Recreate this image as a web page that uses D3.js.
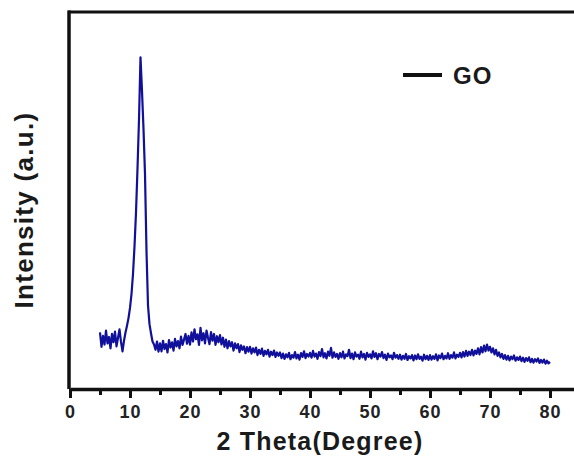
<!DOCTYPE html>
<html>
<head>
<meta charset="utf-8">
<script src="https://cdn.jsdelivr.net/npm/d3@7"></script>
<style>
  body { margin: 0; background: #fff; }
  svg { display: block; font-family: "Liberation Sans", Arial, sans-serif; }
</style>
</head>
<body>
<div id="chart"></div>
<script>
var width = 574,
    height = 459;

// XRD pattern of GO, 2theta from 5 to 80 in 0.25 deg steps
var thetaStart = 5,
    thetaStep = 0.25;

var intensity = [
  150, 112, 141, 118, 155, 121, 138, 108, 146, 124, 152, 113, 136, 158, 125, 100, 128, 150, 168, 188,   // 5 - 9.75
  215, 252, 305, 378, 468, 585, 715, 880, 790, 690, 570, 365, 222, 172, 148, 126, 118, 104, 126, 99,    // 10 - 14.75
  121, 100, 128, 106, 119, 97, 130, 110, 124, 102, 133, 113, 127, 108, 139, 117, 131, 146, 120, 141,    // 15 - 19.75
  118, 150, 126, 158, 132, 145, 117, 162, 129, 148, 121, 155, 136, 119, 151, 128, 146, 117, 140, 124,   // 20 - 24.75
  143, 118, 136, 112, 131, 108, 127, 113, 124, 102, 121, 108, 119, 98, 116, 104, 113, 95, 111, 99,      // 25 - 29.75
  112, 94, 108, 97, 110, 90, 104, 93, 107, 88, 101, 92, 104, 86, 99, 90, 102, 85, 97, 88,               // 30 - 34.75
  97, 82, 94, 80, 92, 84, 96, 79, 90, 83, 98, 81, 91, 78, 95, 85, 100, 82, 93, 86,                      // 35 - 39.75
  96, 83, 101, 86, 94, 80, 98, 87, 106, 84, 95, 81, 99, 88, 109, 83, 97, 85, 93, 80,                    // 40 - 44.75
  95, 84, 99, 81, 92, 87, 104, 82, 94, 79, 97, 86, 91, 80, 99, 84, 93, 78, 96, 85,                      // 45 - 49.75
  92, 81, 100, 85, 95, 79, 93, 86, 98, 82, 91, 77, 94, 84, 89, 79, 96, 83, 90, 80,                      // 50 - 54.75
  91, 78, 88, 80, 93, 77, 87, 81, 90, 76, 89, 79, 92, 80, 86, 75, 91, 79, 88, 77,                       // 55 - 59.75
  90, 78, 87, 80, 92, 76, 89, 82, 94, 79, 88, 81, 95, 80, 90, 83, 97, 81, 91, 85,                       // 60 - 64.75
  96, 84, 98, 86, 101, 88, 99, 90, 104, 89, 102, 93, 108, 92, 111, 97, 115, 100, 118, 102,              // 65 - 69.75
  112, 97, 108, 92, 104, 88, 97, 84, 93, 80, 90, 78, 88, 76, 86, 79, 89, 75, 84, 77,                    // 70 - 74.75
  86, 74, 83, 72, 82, 75, 84, 71, 80, 70, 79, 73, 81, 69, 77, 70, 78, 67, 75, 68, 72                    // 75 - 80
];

var majorTicks = [0, 10, 20, 30, 40, 50, 60, 70, 80];
var minorTicks = [5, 15, 25, 35, 45, 55, 65, 75];
var seriesName = "GO";

var plotLeft = 70, plotRight = 577, plotTop = 12, plotBottom = 389;

var svg = d3.select("#chart").append("svg").attr("width", width).attr("height", height);

var x = d3.scaleLinear().domain([0, 84.5]).range([plotLeft, plotRight]);
var y = d3.scaleLinear().domain([0, 1000]).range([plotBottom, plotTop]);

var data = intensity.map(function(v, i) {
    return { t: thetaStart + i * thetaStep, v: v };
});

// the pattern
var line = d3.line().x(function(d) { return x(d.t); }).y(function(d) { return y(d.v); });
svg.append("path").datum(data).attr("d", line)
    .attr("fill", "none").attr("stroke", "#10109a").attr("stroke-width", 2.2)
    .attr("stroke-linejoin", "round");

// frame: top and left borders (right side is off the picture)
svg.append("line").attr("x1", plotLeft - 2).attr("x2", width).attr("y1", plotTop).attr("y2", plotTop)
    .attr("stroke", "#111").attr("stroke-width", 3);
svg.append("line").attr("x1", plotLeft - 1).attr("x2", plotLeft - 1).attr("y1", plotTop - 1.5).attr("y2", plotBottom)
    .attr("stroke", "#111").attr("stroke-width", 3.5);

// bottom axis, major and minor ticks
var xAxis = d3.axisBottom(x).tickValues(majorTicks).tickSize(9).tickPadding(7).tickSizeOuter(0);
var gx = svg.append("g").attr("transform", "translate(0," + plotBottom + ")").call(xAxis);
gx.select(".domain").attr("stroke", "#111").attr("stroke-width", 3.5);
gx.selectAll(".tick line").attr("stroke", "#111").attr("stroke-width", 3);
gx.selectAll(".tick text").attr("fill", "#222").style("font-size", "18px").style("font-weight", "bold")
    .style("letter-spacing", "1px");

var gm = svg.append("g").attr("transform", "translate(0," + plotBottom + ")")
    .call(d3.axisBottom(x).tickValues(minorTicks).tickSize(6).tickFormat(""));
gm.select(".domain").remove();
gm.selectAll(".tick line").attr("stroke", "#111").attr("stroke-width", 3);

// axis titles
svg.append("text").attr("x", 320).attr("y", 450).attr("text-anchor", "middle")
    .style("font-size", "25px").style("font-weight", "bold").style("letter-spacing", "1.2px")
    .attr("fill", "#1a1a1a").text("2 Theta(Degree)");

svg.append("text").attr("transform", "translate(33,210) rotate(-90)").attr("text-anchor", "middle")
    .style("font-size", "26px").style("font-weight", "bold").style("letter-spacing", "1.3px")
    .attr("fill", "#1a1a1a").text("Intensity (a.u.)");

// legend
svg.append("line").attr("x1", 403).attr("x2", 442).attr("y1", 75).attr("y2", 75)
    .attr("stroke", "#111").attr("stroke-width", 4);
svg.append("text").attr("x", 453).attr("y", 83.5)
    .style("font-size", "24px").style("font-weight", "bold").style("letter-spacing", "1px")
    .attr("fill", "#1a1a1a").text(seriesName);
</script>
</body>
</html>
